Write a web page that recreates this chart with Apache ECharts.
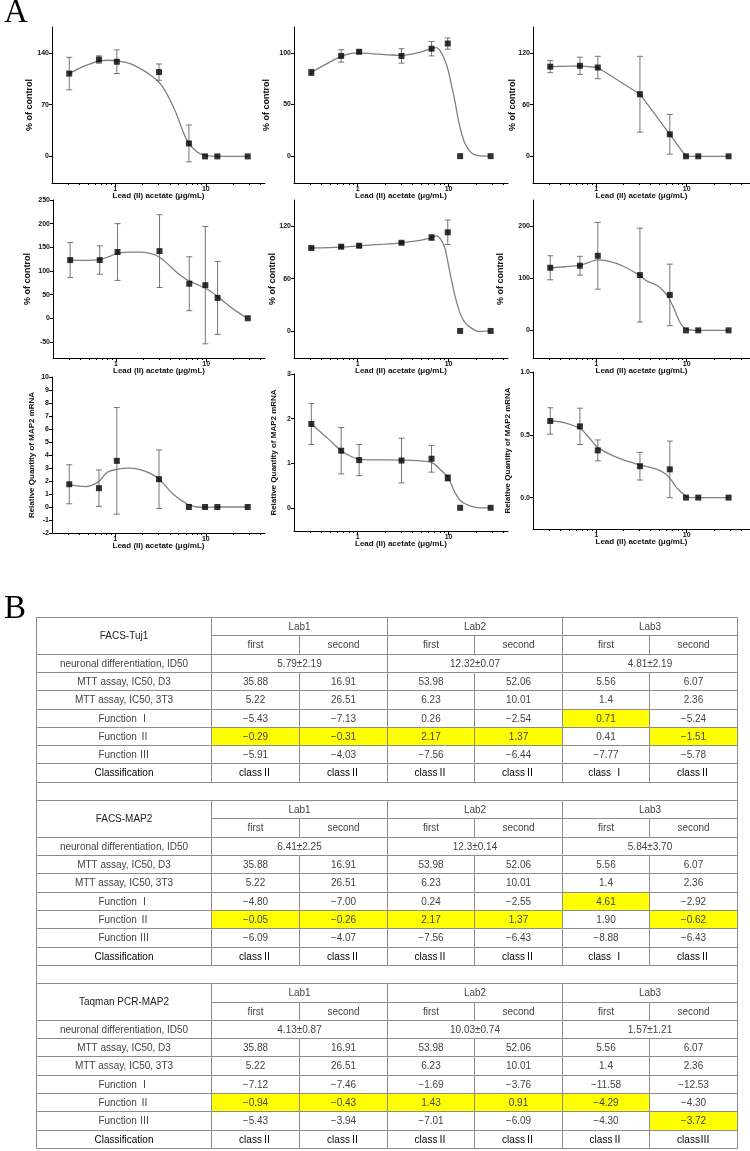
<!DOCTYPE html>
<html><head><meta charset="utf-8">
<script src="https://cdn.jsdelivr.net/npm/echarts@6/dist/echarts.min.js"></script>
<style>html,body{margin:0;padding:0;background:#fff}#c{width:750px;height:1151px}</style>
</head><body><div id="c"></div>
<script>
// ---------- Panel A data ----------
const conc = [0.31, 0.66, 1.04, 3.04, 6.5, 9.8, 13.4, 29];
const xMajor = [1, 10];
const xMinor = [0.3,0.4,0.5,0.6,0.7,0.8,0.9,2,3,4,5,6,7,8,9,20,30,40];
const xName = 'Lead (II) acetate (μg/mL)';
const pctName = '% of control';
const rqName = 'Relative Quantity of MAP2 mRNA';

const p1Mean = [112, 131, 128, 114, 17.5, 0, 0, 0];
const p1Err  = [22, 5, 16, 11, 25, 0, 0, 0];
const p1Fit  = [[0.31,112],[0.4,119],[0.5,124],[0.66,129],[0.85,130],[1.04,129],[1.4,126],[2.0,117],[2.5,109],[3.0,101],[3.5,90],[4.0,77],[4.75,57],[5.5,36],[6.3,20],[7.5,9],[8.5,4],[9.8,1.5],[12,0.3],[16,0],[29,0]];
const p1Ticks = [0, 70, 140];

const p2Mean = [81, 97, 101, 97, 104, 109, 0, 0];
const p2Err  = [3, 6, 1.5, 7, 7, 5.5, 0, 0];
const p2Fit  = [[0.31,81],[0.45,89],[0.66,96.5],[0.85,99.5],[1.04,100],[1.5,99],[2.2,98],[3.04,97.5],[4.0,99],[5.0,101],[6.5,104],[7.3,105],[8.0,102.5],[8.9,95],[9.9,83],[10.8,68],[11.7,54],[12.5,40],[13.3,28.6],[15.1,12.5],[17.9,3],[21,0.5],[29,0]];
const p2Ticks = [0, 50, 100];

const p3Mean = [104, 105, 103, 72, 25.5, 0, 0, 0];
const p3Err  = [7, 10, 13, 44, 23, 0, 0, 0];
const p3Ticks = [0, 60, 120];

const p4Mean = [123, 123, 140, 142, 73, 70, 43, 0];
const p4Err  = [37, 30, 60, 77, 57, 124, 77, 0];
const p4Fit  = [[0.31,123],[0.45,122.5],[0.66,124],[0.85,131],[1.04,137],[1.4,140],[1.8,140],[2.4,137],[3.04,129],[4.0,110],[5.0,93],[6.3,80],[8,71],[10,63],[13.4,46],[17,30],[22,14],[29,0]];
const p4Ticks = [-50, 0, 50, 100, 150, 200, 250];

const p5Mean = [95, 96.5, 97.6, 101, 107, 113, 0, 0];
const p5Err  = [1, 1.5, 2, 1.5, 3, 14, 0, 0];
const p5Fit  = [[0.31,95],[0.66,96],[1.04,97.5],[2,99.5],[3.04,101],[5,104],[6.5,107],[7.4,109],[8.3,104],[9.1,95],[9.7,82],[10.3,68],[11,54],[11.7,41],[13.3,21],[14.8,11],[16.4,6],[19,1.5],[21,-0.5],[29,0]];
const p5Ticks = [0, 60, 120];

const p6Mean = [120, 124, 143, 106, 68, 0, 0, 0];
const p6Err  = [23, 18, 64, 90, 59, 0, 0, 0];
const p6Fit  = [[0.31,120],[0.45,122],[0.66,125],[0.85,131],[1.04,135],[1.5,131],[2,123],[3.04,105],[3.6,95],[4.7,86],[5.5,76],[6.25,64],[7.1,45],[7.74,29],[8.8,10],[10,2.5],[11.5,0.5],[13.4,0],[29,0]];
const p6Ticks = [0, 100, 200];

const p7Mean = [1.75, 1.45, 3.55, 2.14, 0, 0, 0, 0];
const p7Err  = [1.5, 1.4, 4.1, 2.25, 0, 0, 0, 0];
const p7Fit  = [[0.31,1.72],[0.4,1.6],[0.47,1.57],[0.65,1.93],[0.81,2.65],[1.04,2.9],[1.4,2.99],[1.88,2.88],[2.4,2.6],[3.04,2.14],[4.37,0.98],[6.3,0.2],[8,0.0],[10,-0.03],[13.4,0],[29,0]];
const p7Ticks = [-2,-1,0,1,2,3,4,5,6,7,8,9,10];

const p8Mean = [1.88, 1.28, 1.07, 1.06, 1.1, 0.67, 0, 0];
const p8Err  = [0.46, 0.52, 0.35, 0.5, 0.3, 0.07, 0, 0];
const p8Fit  = [[0.31,1.88],[0.48,1.54],[0.66,1.28],[0.85,1.15],[1.04,1.09],[1.5,1.075],[3.04,1.07],[5,1.05],[6.5,1.02],[8,0.87],[9.9,0.67],[11.7,0.35],[13.9,0.14],[17.9,0.03],[22,0],[29,0]];
const p8Ticks = [0, 1, 2, 3];

const p9Mean = [0.61, 0.567, 0.376, 0.25, 0.225, 0, 0, 0];
const p9Err  = [0.105, 0.145, 0.083, 0.11, 0.225, 0, 0, 0];
const p9Fit  = [[0.31,0.61],[0.44,0.597],[0.66,0.55],[0.85,0.47],[1.04,0.40],[1.5,0.336],[2,0.30],[3.04,0.26],[4.7,0.225],[5.8,0.19],[6.5,0.155],[7.2,0.11],[7.9,0.07],[9.7,0.015],[11,0],[29,0]];
const p9Ticks = [0, 0.5, 1];

// ---------- Panel B data ----------
const blockNames = ['FACS-Tuj1', 'FACS-MAP2', 'Taqman PCR-MAP2'];
const labs = ['Lab1', 'Lab2', 'Lab3'];
const runs = ['first', 'second'];
const rowLabels = ['neuronal differentiation, ID50', 'MTT assay, IC50, D3', 'MTT assay, IC50, 3T3', 'Function Ⅰ', 'Function Ⅱ', 'Function Ⅲ', 'Classification'];
const id50 = [['5.79±2.19','12.32±0.07','4.81±2.19'], ['6.41±2.25','12.3±0.14','5.84±3.70'], ['4.13±0.87','10.03±0.74','1.57±1.21']];
const mttD3 = ['35.88','16.91','53.98','52.06','5.56','6.07'];
const mtt3T3 = ['5.22','26.51','6.23','10.01','1.4','2.36'];
const func1 = [['−5.43','−7.13','0.26','−2.54','0.71','−5.24'], ['−4.80','−7.00','0.24','−2.55','4.61','−2.92'], ['−7.12','−7.46','−1.69','−3.76','−11.58','−12.53']];
const func2 = [['−0.29','−0.31','2.17','1.37','0.41','−1.51'], ['−0.05','−0.26','2.17','1.37','1.90','−0.62'], ['−0.94','−0.43','1.43','0.91','−4.29','−4.30']];
const func3 = [['−5.91','−4.03','−7.56','−6.44','−7.77','−5.78'], ['−6.09','−4.07','−7.56','−6.43','−8.88','−6.43'], ['−5.43','−3.94','−7.01','−6.09','−4.30','−3.72']];
const classes = [['classⅡ','classⅡ','classⅡ','classⅡ','class Ⅰ','classⅡ'], ['classⅡ','classⅡ','classⅡ','classⅡ','class Ⅰ','classⅡ'], ['classⅡ','classⅡ','classⅡ','classⅡ','classⅡ','classⅢ']];
const hiF1 = [[0,0,0,0,1,0],[0,0,0,0,1,0],[0,0,0,0,0,0]];
const hiF2 = [[1,1,1,1,0,1],[1,1,1,1,0,1],[1,1,1,1,1,0]];
const hiF3 = [[0,0,0,0,0,0],[0,0,0,0,0,0],[0,0,0,0,0,1]];

// ---------- layout (positions only) ----------
const layout = [
  {l:52,  t:27,  w:213, h:156, ymin:-36,  ymax:175, xmax:45, gap:18},
  {l:294, t:27,  w:214, h:156, ymin:-26,  ymax:125, xmax:45, gap:23},
  {l:533, t:27,  w:217, h:156, ymin:-31,  ymax:150, xmax:50, gap:16},
  {l:53,  t:200, w:212, h:158, ymin:-84,  ymax:250, xmax:45, gap:21},
  {l:294, t:200, w:214, h:158, ymin:-31,  ymax:150, xmax:45, gap:17},
  {l:533, t:200, w:217, h:158, ymin:-53,  ymax:250, xmax:50, gap:28},
  {l:52,  t:377, w:213, h:156, ymin:-2,   ymax:10,  xmax:45, gap:16},
  {l:294, t:374, w:214, h:157, ymin:-0.52,ymax:3,   xmax:45, gap:16},
  {l:533, t:372, w:217, h:157, ymin:-0.25,ymax:1,   xmax:50, gap:21}
];
const panels = [
  {mean:p1Mean, err:p1Err, fit:p1Fit, ticks:p1Ticks, yName:pctName},
  {mean:p2Mean, err:p2Err, fit:p2Fit, ticks:p2Ticks, yName:pctName},
  {mean:p3Mean, err:p3Err, fit:null,  ticks:p3Ticks, yName:pctName},
  {mean:p4Mean, err:p4Err, fit:p4Fit, ticks:p4Ticks, yName:pctName},
  {mean:p5Mean, err:p5Err, fit:p5Fit, ticks:p5Ticks, yName:pctName},
  {mean:p6Mean, err:p6Err, fit:p6Fit, ticks:p6Ticks, yName:pctName},
  {mean:p7Mean, err:p7Err, fit:p7Fit, ticks:p7Ticks, yName:rqName},
  {mean:p8Mean, err:p8Err, fit:p8Fit, ticks:p8Ticks, yName:rqName},
  {mean:p9Mean, err:p9Err, fit:p9Fit, ticks:p9Ticks, yName:rqName, dec:1}
];

const FONT = 'Liberation Sans, Arial, sans-serif';
const option = {
  animation: false,
  backgroundColor: '#fff',
  textStyle: {fontFamily: FONT},
  grid: [], xAxis: [], yAxis: [], series: [],
  graphic: [
    {type:'text', left:4, top:-3, style:{text:'A', font:'33px "Liberation Serif", serif', fill:'#000'}},
    {type:'text', left:4, top:593, style:{text:'B', font:'33px "Liberation Serif", serif', fill:'#000'}}
  ]
};

function errRender(params, api) {
  const x = api.value(0), y = api.value(1), e = api.value(2);
  if (!e) return {type:'group', children:[]};
  const top = api.coord([x, y + e]), bot = api.coord([x, y - e]);
  const w = 3, st = {stroke:'#666', lineWidth:0.9};
  return {type:'group', children:[
    {type:'line', shape:{x1:top[0], y1:top[1], x2:bot[0], y2:bot[1]}, style:st},
    {type:'line', shape:{x1:top[0]-w, y1:top[1], x2:top[0]+w, y2:top[1]}, style:st},
    {type:'line', shape:{x1:bot[0]-w, y1:bot[1], x2:bot[0]+w, y2:bot[1]}, style:st}
  ]};
}

layout.forEach((L, i) => {
  const P = panels[i];
  option.grid.push({left:L.l, top:L.t, width:L.w, height:L.h, containLabel:false, outerBoundsMode:'none'});
  const xBase = {type:'log', logBase:10, gridIndex:i, min:0.2, max:L.xmax, position:'bottom', splitLine:{show:false}};
  option.xAxis.push(Object.assign({}, xBase, {
    axisLine:{show:true, onZero:false, lineStyle:{color:'#000', width:1}},
    axisTick:{show:true, length:4, customValues:xMajor, lineStyle:{color:'#000', width:1}},
    axisLabel:{customValues:xMajor, margin:3, fontSize:7, fontWeight:'bold', color:'#111', fontFamily:FONT},
    name:xName, nameLocation:'middle', nameGap:9, nameMoveOverlap:false,
    nameTextStyle:{fontSize:8, fontWeight:'bold', color:'#111', fontFamily:FONT}
  }));
  option.xAxis.push(Object.assign({}, xBase, {
    axisLine:{show:false, onZero:false},
    axisTick:{show:true, length:2, customValues:xMinor, lineStyle:{color:'#000', width:1}},
    axisLabel:{show:false}
  }));
  option.yAxis.push({
    type:'value', gridIndex:i, min:L.ymin, max:L.ymax, splitLine:{show:false},
    axisLine:{show:true, onZero:false, lineStyle:{color:'#000', width:1}},
    axisTick:{show:true, length:3, customValues:P.ticks, lineStyle:{color:'#000', width:1}},
    axisLabel:{customValues:P.ticks, margin:3, fontSize:7, fontWeight:'bold', color:'#111', fontFamily:FONT,
      formatter: v => P.dec ? Number(v).toFixed(P.dec) : String(v)},
    name:P.yName, nameLocation:'middle', nameGap:L.gap, nameMoveOverlap:false,
    nameTextStyle:{fontSize: P.yName === rqName ? 8 : 9, fontWeight:'bold', color:'#111', fontFamily:FONT}
  });
  const pts = conc.map((x, k) => [x, P.mean[k]]);
  option.series.push({
    type:'line', xAxisIndex:2*i, yAxisIndex:i,
    data: P.fit ? P.fit : pts, smooth: P.fit ? 0.35 : false, showSymbol:false, symbol:'none',
    lineStyle:{color:'#808080', width:1.3}, z:2, silent:true
  });
  option.series.push({
    type:'custom', xAxisIndex:2*i, yAxisIndex:i, renderItem:errRender,
    data: conc.map((x, k) => [x, P.mean[k], P.err[k]]), z:3, silent:true
  });
  option.series.push({
    type:'scatter', xAxisIndex:2*i, yAxisIndex:i, data:pts, symbol:'rect', symbolSize:6,
    itemStyle:{color:'#000'}, z:5, silent:true
  });
});

// ---------- table (panel B) ----------
const cells = [];
blockNames.forEach((bn, b) => {
  const R = b * 10;
  cells.push([0, R, 2, R+2, bn, 0, 'head']);
  labs.forEach((lab, j) => cells.push([2+2*j, R, 4+2*j, R+1, lab, 0, 'n']));
  for (let k = 0; k < 6; k++) cells.push([2+k, R+1, 3+k, R+2, runs[k%2], 0, 'n']);
  const rowVals = [null, mttD3, mtt3T3, func1[b], func2[b], func3[b], classes[b]];
  const rowHi = [null, null, null, hiF1[b], hiF2[b], hiF3[b], null];
  rowLabels.forEach((lbl, r) => {
    const rr = R + 2 + r;
    const st = r === 6 ? 'cls' : 'n';
    cells.push([0, rr, 2, rr+1, lbl, 0, st]);
    if (r === 0) {
      id50[b].forEach((v, j) => cells.push([2+2*j, rr, 4+2*j, rr+1, v, 0, st]));
    } else {
      rowVals[r].forEach((v, k) => cells.push([2+k, rr, 3+k, rr+1, v, rowHi[r] ? rowHi[r][k] : 0, st]));
    }
  });
  if (b < 2) cells.push([0, R+9, 8, R+10, '', 0, 'n']);
});

option.grid.push({left:36, right:13, top:617, bottom:3, containLabel:false, outerBoundsMode:'none'});
option.xAxis.push({type:'value', gridIndex:9, min:0, max:8, show:false});
option.yAxis.push({type:'value', gridIndex:9, min:0, max:29, inverse:true, show:false});
option.series.push({
  type:'custom', xAxisIndex:18, yAxisIndex:9, silent:true,
  data: cells.map(c => [c[0], c[1], c[2], c[3]]),
  renderItem: (params, api) => {
    const c = cells[params.dataIndex];
    const p0 = api.coord([api.value(0), api.value(1)]);
    const p1 = api.coord([api.value(2), api.value(3)]);
    const x0 = Math.round(p0[0]) + 0.5, y0 = Math.round(p0[1]) + 0.5;
    const x1 = Math.round(p1[0]) + 0.5, y1 = Math.round(p1[1]) + 0.5;
    const color = c[6] === 'cls' ? '#000' : (c[6] === 'head' ? '#222' : '#444');
    return {type:'group', children:[
      {type:'rect', shape:{x:x0, y:y0, width:x1-x0, height:y1-y0},
        style:{fill: c[5] ? '#ffff00' : '#fff', stroke:'#8c8c8c', lineWidth:1}},
      {type:'text', style:{text:c[4], x:(x0+x1)/2, y:(y0+y1)/2 + 0.5, align:'center', verticalAlign:'middle',
        fill:color, font:'10px "Liberation Sans", "Noto Sans CJK KR", sans-serif'}}
    ]};
  }
});

const chart = echarts.init(document.getElementById('c'), null, {renderer:'canvas'});
chart.setOption(option);
</script></body></html>
